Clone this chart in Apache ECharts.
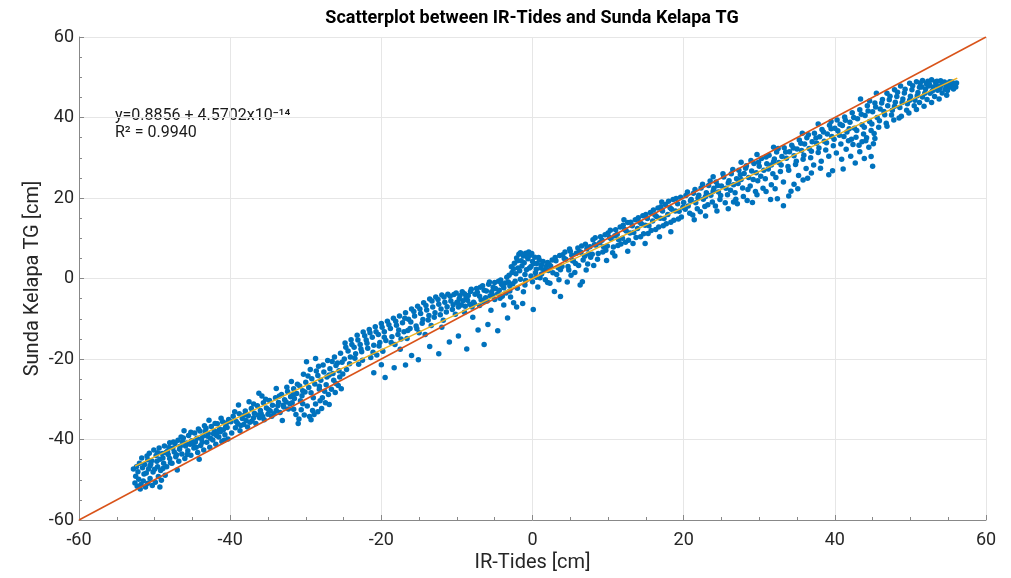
<!DOCTYPE html>
<html>
<head>
<meta charset="utf-8">
<script src="https://cdn.jsdelivr.net/npm/echarts@6/dist/echarts.min.js"></script>
<style>
html,body{margin:0;padding:0;background:#fff;}
#chart{width:1011px;height:578px;}
</style>
</head>
<body>
<div id="chart"></div>
<script>
// ---- data ----
const titleText = 'Scatterplot between IR-Tides and Sunda Kelapa TG';
const xAxisName = 'IR-Tides [cm]';
const yAxisName = 'Sunda Kelapa TG [cm]';
const fitText1 = 'y=0.8856 + 4.5702x10⁻¹⁴';
const fitText2 = 'R² = 0.9940';
const axisMin = -60, axisMax = 60, axisStep = 20;

// reference line y = x and fitted line
const refLine = [[-60, -60], [60, 60]];
const fitLine = [[-52.6, -46.6], [56.2, 49.8]];

// scatter points, grouped by region of the cloud
const segA = [
 [-52.6,-50.8],[-52.3,-51.6],[-52.1,-49.9],[-51.8,-51.2],[-51.5,-50.3],[-51.2,-51.8],[-50.9,-50.9],[-50.6,-49.7],[-50.3,-51.4],[-49.9,-50.6],[-49.5,-49.2],[-49.1,-50.1],
 [-52.4,-46.8],[-52.0,-45.9],[-51.7,-44.6],[-51.3,-46.2],[-51.0,-44.1],[-50.7,-43.4],[-50.4,-45.3],[-50.1,-42.6],[-49.8,-44.0],[-49.4,-42.1],[-49.0,-43.5],[-48.7,-41.6],[-48.3,-42.9],[-48.0,-40.8],[-47.6,-42.2],[-47.3,-41.0],[-46.9,-40.2],[-46.6,-41.7],[-46.2,-39.6],[-45.8,-40.9],[-45.5,-39.0],[-45.1,-40.3],[-44.7,-38.4],[-44.4,-39.7],[-44.0,-37.9],[-43.6,-39.1],[-43.2,-37.2],[-42.9,-38.5],[-42.5,-36.8],[-42.1,-37.9],[-41.7,-36.1],[-41.4,-37.4],[-41.0,-35.6],[-40.6,-36.9],[-40.2,-35.0],
 [-51.4,-48.6],[-50.8,-47.3],[-50.2,-48.1],[-49.6,-46.8],[-49.2,-47.7],[-48.8,-45.9],[-48.4,-46.8],[-48.0,-44.7],[-47.7,-45.9],[-47.2,-44.3],[-46.8,-45.4],[-46.4,-43.6],[-46.0,-44.7],[-45.6,-42.8],[-45.2,-43.9],[-44.8,-42.1],[-44.3,-43.2],[-43.9,-41.5],[-43.5,-42.6],[-43.1,-40.7],[-42.7,-41.9],[-42.3,-40.1],[-41.9,-41.2],[-41.5,-39.4],[-41.1,-40.5],[-40.7,-38.8],[-40.3,-39.9],
 [-50.5,-46.1],[-49.7,-45.4],[-48.9,-44.6],[-48.2,-43.7],[-47.4,-43.1],[-46.7,-42.4],[-45.9,-41.6],[-45.3,-41.2],[-44.6,-40.6],[-43.8,-39.8],[-43.0,-39.2],[-42.2,-38.6],[-41.6,-38.0],[-40.9,-37.6],[-40.4,-37.0],
 [-51.9,-52.3],[-49.3,-51.8],[-48.6,-48.9],[-47.0,-47.6],[-44.1,-44.9],[-46.1,-37.8],[-42.8,-35.2],[-38.9,-31.4]
];
const fillA = [
 [-52.8,-47.3],[-52.5,-49.1],[-51.6,-47.0],[-51.1,-48.3],[-50.6,-46.6],[-50.0,-47.4],[-49.3,-44.9],[-48.9,-47.2],[-48.5,-43.2],[-47.9,-45.8],[-47.5,-40.6],[-47.1,-43.8],[-46.5,-39.4],[-45.7,-43.7],[-45.2,-38.2],[-44.9,-41.0],[-44.2,-37.4],[-43.7,-40.7],[-43.4,-36.6],[-42.6,-39.7],[-42.0,-36.0],[-41.8,-39.0],[-41.2,-34.7],[-40.8,-40.2],[-40.5,-35.9],[-52.2,-48.0],[-50.9,-45.0],[-49.6,-43.3],[-48.1,-42.0],[-46.3,-40.6],[-44.5,-41.9],[-43.3,-38.0],[-41.3,-38.1]
];
const segB = [
 [-39.6,-34.2],[-39.2,-35.5],[-38.8,-33.6],[-38.4,-34.8],[-38.0,-32.9],[-37.6,-34.1],[-37.2,-32.3],[-36.8,-33.5],[-36.4,-31.6],[-36.0,-32.8],[-35.6,-30.9],[-35.2,-32.2],[-34.8,-30.3],[-34.4,-31.5],[-34.0,-29.6],[-33.6,-30.8],[-33.2,-28.8],[-32.8,-30.1],[-32.4,-28.1],[-32.0,-29.4],[-31.6,-27.4],[-31.2,-28.6],[-30.8,-26.7],[-30.4,-27.9],[-30.0,-25.8],[-29.6,-27.1],[-29.2,-24.9],[-28.8,-26.2],[-28.4,-24.1],[-28.0,-25.3],[-27.6,-23.2],[-27.2,-24.5],[-26.8,-22.4],[-26.4,-23.6],[-26.0,-21.6],[-25.6,-22.9],[-25.2,-20.8],
 [-37.5,-30.6],[-35.8,-29.2],[-33.9,-27.3],[-31.9,-25.6],[-30.3,-23.8],[-29.4,-22.6],[-28.3,-21.8],[-27.1,-20.4],[-26.2,-19.5],[-25.4,-18.6],[-29.9,-20.7],[-28.7,-19.9],
 [-39.8,-38.4],[-39.3,-37.1],[-38.7,-37.8],[-38.2,-36.3],[-37.7,-36.9],[-37.1,-35.4],[-36.6,-36.0],[-36.1,-34.6],[-35.5,-35.1],[-35.0,-33.7],[-34.5,-34.2],[-33.9,-32.8],[-33.4,-33.3],[-32.9,-31.9],[-32.3,-32.4],[-31.8,-30.9],
 [-31.3,-33.8],[-30.9,-34.9],[-30.6,-32.6],[-30.2,-33.9],[-29.8,-31.7],[-29.5,-34.3],[-29.1,-32.8],[-28.7,-31.2],[-28.4,-33.1],[-28.1,-30.4],[-27.8,-29.6],[-27.4,-30.9],[-27.0,-28.8],[-26.6,-27.5],[-26.1,-28.3],[-25.7,-26.6],[-25.3,-27.4],
 [-39.0,-36.0],[-37.9,-35.3],[-36.9,-34.6],[-35.9,-33.6],[-34.9,-32.6],[-33.7,-31.6],[-32.6,-30.7],[-31.5,-29.8],[-30.5,-29.1],[-29.3,-28.4],[-28.2,-27.5],[-27.3,-26.4],[-26.3,-25.3],[-25.5,-24.5],
 [-36.2,-28.5],[-33.1,-35.3],[-31.0,-36.0],[-26.9,-31.3]
];
const fillB = [
 [-39.9,-35.6],[-39.4,-33.1],[-38.6,-36.5],[-38.1,-33.9],[-37.4,-35.7],[-36.9,-31.2],[-36.3,-33.9],[-35.7,-34.3],[-35.3,-30.0],[-34.7,-32.9],[-34.2,-33.6],[-33.5,-29.2],[-33.0,-31.5],[-32.5,-27.0],[-32.1,-31.1],[-31.7,-28.9],[-31.1,-26.3],[-30.7,-30.4],[-30.1,-28.2],[-29.7,-24.2],[-29.0,-29.6],[-28.6,-23.0],[-28.2,-26.8],[-27.7,-21.5],[-27.5,-28.0],[-26.9,-24.0],[-26.5,-20.6],[-26.0,-26.1],[-25.8,-21.0],[-25.1,-23.7],[-29.3,-35.1],[-30.4,-31.1],[-28.9,-33.8],[-27.9,-32.3],[-31.6,-32.5]
];
const segC = [
 [-24.8,-16.0],[-24.0,-15.2],[-23.2,-14.1],[-22.4,-13.3],[-21.6,-12.7],[-20.8,-12.0],[-20.0,-11.2],[-19.2,-10.6],[-18.4,-9.9],[-17.6,-9.3],[-16.8,-8.5],[-16.0,-7.6],[-15.2,-6.9],[-14.4,-6.0],[-13.6,-5.1],[-12.8,-4.6],[-12.0,-4.1],[-11.2,-3.9],[-10.4,-4.0],[-9.6,-4.3],
 [-24.4,-18.0],[-23.6,-17.1],[-22.8,-16.4],[-22.0,-15.3],[-21.2,-14.6],[-20.4,-13.9],[-19.6,-13.2],[-18.8,-12.4],[-18.0,-11.6],[-17.2,-11.0],[-16.4,-10.1],[-15.6,-9.3],[-14.8,-8.7],[-14.0,-7.8],[-13.2,-7.1],[-12.4,-6.4],[-11.6,-5.9],[-10.8,-5.6],[-10.0,-5.9],[-9.2,-5.5],
 [-24.9,-20.0],[-24.1,-19.5],[-23.4,-18.7],[-22.6,-18.2],[-21.8,-17.3],[-21.0,-16.6],[-20.2,-15.9],[-19.4,-15.4],[-18.6,-14.5],[-17.8,-13.9],[-17.0,-13.2],[-16.2,-12.4],[-15.4,-11.8],[-14.6,-11.1],[-13.8,-10.3],[-13.0,-9.6],[-12.2,-9.0],[-11.4,-8.3],[-10.6,-7.7],[-9.8,-7.1],
 [-24.6,-22.6],[-23.0,-21.3],[-21.4,-19.6],[-19.8,-18.1],[-18.2,-16.4],[-16.6,-14.9],[-15.0,-13.5],[-13.4,-11.7],[-11.8,-10.4],[-10.2,-8.9],
 [-21.0,-23.4],[-19.5,-24.6],[-18.3,-22.2],[-16.8,-21.5],[-15.1,-20.2],[-13.6,-16.9],[-12.4,-18.7],[-11.0,-15.8],[-9.8,-14.3],[-8.7,-17.5],[-7.2,-12.8],[-6.4,-16.4],[-5.9,-11.4],[-4.6,-13.0],[-3.3,-9.8],[-2.1,-7.1]
];
const fillC = [
 [-24.7,-17.1],[-24.2,-21.2],[-23.9,-16.4],[-23.5,-19.8],[-23.1,-15.3],[-22.7,-17.5],[-22.2,-14.2],[-21.9,-16.1],[-21.5,-13.5],[-21.1,-18.3],[-20.7,-13.2],[-20.3,-16.8],[-19.9,-12.1],[-19.6,-14.6],[-19.0,-11.5],[-18.7,-15.9],[-18.1,-10.6],[-17.7,-12.8],[-17.4,-15.0],[-16.9,-9.9],[-16.5,-12.9],[-16.1,-10.8],[-15.7,-8.2],[-15.3,-12.5],[-14.9,-7.6],[-14.5,-10.2],[-14.1,-6.7],[-13.7,-9.2],[-13.3,-5.6],[-12.9,-8.5],[-12.5,-5.2],[-12.1,-7.6],[-11.7,-4.6],[-11.3,-7.0],[-10.9,-4.4],[-10.5,-6.5],[-10.1,-3.6],[-22.5,-20.3],[-20.6,-19.0],[-17.5,-17.6],[-14.2,-13.9],[-12.0,-12.1],[-16.0,-19.1],[-20.0,-21.4]
];
const segD = [
 [-9.0,-3.8],[-8.2,-3.2],[-7.4,-2.5],[-6.6,-1.8],[-5.8,-1.4],[-5.0,-1.0],[-4.2,-0.4],[-3.4,0.3],[-2.7,1.5],
 [-2.4,3.8],[-2.1,5.1],[-1.8,6.0],[-1.5,4.4],[-1.2,5.6],[-0.9,6.3],[-0.6,4.9],[-0.3,5.8],[0.0,4.2],[0.3,5.3],[0.6,3.7],[0.9,4.6],[-1.9,2.6],[-1.4,3.1],[-0.8,2.2],[-0.2,3.0],[0.5,2.3],[1.2,3.4],[-2.8,2.9],[-2.2,1.2],[-1.0,1.0],[1.5,2.1],[-0.5,6.6],[-1.6,6.4],
 [-9.4,-6.6],[-8.6,-5.4],[-7.8,-5.9],[-7.0,-4.4],[-6.2,-4.8],[-5.4,-3.3],[-4.6,-3.8],[-3.8,-2.3],[-3.0,-1.8],[-2.3,-0.7],[-1.6,-0.2],[-0.9,-0.5],[-0.2,0.6],[0.5,0.3],[1.2,1.1],
 [-9.0,-8.4],[-8.0,-7.1],[-7.0,-6.7],[-6.0,-5.6],[-5.0,-5.2],[-4.0,-4.4],[-3.0,-3.1],[-2.0,-2.4],[-1.0,-1.6],[0.0,-0.8],[1.0,0.2],
 [-8.8,-4.6],[-7.6,-3.9],[-6.4,-2.9],[-5.2,-2.2],[-4.1,-1.4],[-3.2,-0.9],[-9.9,-6.0],[-8.3,-6.4],[-6.8,-5.3],[-5.6,-4.3],[-4.4,-2.9],[-3.6,-1.1],
 [-1.3,-6.2],[0.1,-7.7],[-2.5,-6.0],[2.0,-1.0],[3.7,-4.5],[2.9,-3.2]
];
const fillD = [
 [-9.7,-5.0],[-9.3,-3.3],[-8.9,-6.9],[-8.5,-4.2],[-8.1,-2.7],[-7.7,-6.3],[-7.3,-3.4],[-6.9,-2.2],[-6.5,-5.7],[-6.1,-3.1],[-5.7,-0.9],[-5.3,-4.1],[-4.9,-2.5],[-4.5,-0.7],[-4.3,-4.9],[-3.9,-1.8],[-3.5,-3.6],[-3.1,0.8],[-2.6,-1.3],[-2.5,2.4],[-2.0,4.4],[-1.7,1.9],[-1.3,6.0],[-1.1,3.9],[-0.7,5.4],[-0.4,2.6],[-0.1,6.2],[0.2,3.7],[0.4,1.4],[0.8,5.2],[1.1,2.6],[1.4,4.2],[1.8,3.0],[-5.5,-7.9],[-3.8,-6.6],[-7.9,-9.6],[-2.9,-4.6],[-1.2,-3.3],[0.7,-2.1],[1.7,-0.3]
];
const segE = [
 [2.0,4.0],[3.0,5.2],[4.0,5.9],[5.0,6.8],[6.0,7.6],[7.0,8.5],[8.0,9.6],[9.0,10.4],[10.0,11.3],[11.0,12.1],[12.0,13.2],[13.0,14.0],[14.0,15.1],[15.0,15.9],[16.0,17.0],[17.0,17.8],[18.0,19.2],[19.0,19.9],
 [2.4,3.1],[3.4,2.7],[4.4,4.8],[5.4,4.4],[6.4,6.5],[7.4,6.1],[8.4,8.3],[9.4,7.9],[10.4,9.9],[11.4,9.6],[12.4,11.8],[13.4,11.4],[14.4,13.6],[15.4,13.1],[16.4,15.4],[17.4,14.9],[18.4,17.2],[19.4,16.7],
 [2.7,1.4],[3.7,2.2],[4.7,3.0],[5.7,3.7],[6.7,4.6],[7.7,5.3],[8.7,6.2],[9.7,7.0],[10.7,7.8],[11.7,8.6],[12.7,9.5],[13.7,10.2],[14.7,11.1],[15.7,11.9],[16.7,12.8],[17.7,13.6],[18.7,14.5],[19.7,15.3],
 [2.2,3.5],[3.1,4.4],[4.2,5.0],[5.2,5.8],[6.2,6.7],[7.2,7.4],[8.2,8.4],[9.2,9.5],[10.2,10.2],[11.2,11.0],[12.2,12.2],[13.2,13.1],[14.2,14.0],[15.2,14.9],[16.2,15.8],[17.2,16.8],[18.2,17.6],[19.2,18.6],
 [2.3,-1.2],[3.5,-0.3],[5.1,0.8],[6.3,-1.6],[8.1,3.2],[10.9,5.6],[12.6,6.8],[14.9,8.7],[16.8,10.4],[18.3,11.6],[4.6,-0.9],[7.1,2.1],[9.8,4.5],[5.6,1.5],[6.6,-0.8]
];
const fillE = [
 [2.1,2.0],[2.6,4.6],[3.2,1.0],[3.6,5.7],[3.9,3.0],[4.3,6.6],[4.8,2.1],[5.3,4.4],[5.8,6.3],[6.1,3.2],[6.5,8.1],[6.9,5.5],[7.3,3.6],[7.6,7.9],[7.9,6.0],[8.3,10.1],[8.6,4.8],[8.9,8.9],[9.3,6.6],[9.6,10.9],[9.9,8.1],[10.3,12.0],[10.6,6.4],[10.9,10.6],[11.3,8.2],[11.6,12.8],[11.9,10.0],[12.3,9.0],[12.6,13.9],[12.9,11.3],[13.3,8.7],[13.6,14.6],[13.9,12.4],[14.3,10.4],[14.6,15.6],[14.9,13.2],[15.3,11.2],[15.6,16.4],[15.9,14.3],[16.3,12.2],[16.6,17.5],[16.9,15.0],[17.3,13.1],[17.6,18.4],[17.9,15.9],[18.3,14.0],[18.6,19.6],[18.9,16.8],[19.3,14.8],[19.6,20.2],[19.9,17.7],[4.9,7.3],[12.1,14.6],[17.1,19.0]
];
const segF = [
 [20.3,20.6],[21.3,21.2],[22.3,22.5],[23.3,23.1],[24.3,24.0],[25.3,25.2],[26.3,26.0],[27.3,26.9],[28.3,28.0],[29.3,28.6],[30.3,29.8],[31.3,30.6],[32.3,31.4],[33.3,32.5],[34.3,33.1],[35.3,34.4],[36.3,35.0],[37.3,36.1],[38.3,37.0],[39.3,38.1],
 [20.0,18.9],[21.0,19.6],[22.0,20.7],[23.0,21.3],[24.0,22.4],[25.0,23.0],[26.0,24.3],[27.0,24.8],[28.0,26.1],[29.0,26.7],[30.0,27.9],[31.0,28.5],[32.0,29.7],[33.0,30.3],[34.0,31.5],[35.0,32.2],[36.0,33.4],[37.0,34.0],[38.0,35.2],[39.0,35.9],
 [20.6,18.0],[21.6,18.8],[22.6,19.7],[23.6,20.7],[24.6,21.5],[25.6,22.4],[26.6,23.3],[27.6,24.6],[28.6,25.1],[29.6,26.3],[30.6,26.9],[31.6,28.2],[32.6,28.8],[33.6,29.9],[34.6,30.5],[35.6,31.8],[36.6,32.3],[37.6,33.6],[38.6,34.1],[39.6,35.3],
 [20.8,16.2],[21.8,17.3],[22.8,17.9],[23.8,19.0],[24.8,19.6],[25.8,20.8],[26.8,21.3],[27.8,22.5],[28.8,23.0],[29.8,24.3],[30.8,24.8],[31.8,26.0],[32.8,26.6],[33.8,27.8],[34.8,28.3],[35.8,29.6],[36.8,30.0],[37.8,31.3],[38.8,31.9],[39.8,33.0],
 [21.4,14.6],[22.9,15.5],[24.4,16.8],[25.9,17.3],[27.1,18.6],[28.4,19.4],[29.7,20.8],[30.9,21.6],[32.1,22.3],[33.2,18.1],[33.9,20.5],[34.6,23.4],[35.8,24.5],[36.9,26.2],[38.1,27.4],[39.2,25.8],[26.6,19.0],[31.5,19.6],
 [23.9,25.3],[27.6,28.9],[31.9,32.6],[35.7,36.1],[37.8,38.4],[39.5,39.0],[29.7,30.8]
];
const fillF = [
 [20.2,17.2],[20.5,21.5],[20.9,19.3],[21.2,15.8],[21.5,22.1],[21.9,20.0],[22.2,16.6],[22.5,23.4],[22.9,20.4],[23.2,18.3],[23.5,24.2],[23.9,21.7],[24.2,18.0],[24.5,23.1],[24.9,20.6],[25.2,26.0],[25.5,18.8],[25.9,23.7],[26.2,21.9],[26.5,27.1],[26.9,19.7],[27.2,23.6],[27.5,25.8],[27.9,20.4],[28.2,27.4],[28.5,22.1],[28.9,29.3],[29.2,24.6],[29.5,21.6],[29.9,28.9],[30.2,25.4],[30.5,22.4],[30.9,30.2],[31.2,27.2],[31.6,23.3],[31.9,29.0],[32.2,25.1],[32.5,32.3],[32.9,28.2],[33.2,24.0],[33.5,31.4],[33.9,26.9],[34.2,21.7],[34.5,32.4],[34.9,29.1],[35.2,25.6],[35.5,33.6],[35.9,30.6],[36.2,27.3],[36.5,35.7],[36.9,31.6],[37.2,28.2],[37.5,34.9],[37.9,32.4],[38.2,29.1],[38.5,36.4],[38.9,33.7],[39.2,30.4],[39.5,37.2],[39.9,34.6],[32.4,19.8],[35.1,22.3],[36.4,24.9],[29.1,18.9]
];
const segG = [
 [40.3,39.4],[41.3,40.1],[42.3,41.2],[43.3,41.9],[44.3,42.9],[45.3,43.6],[46.3,44.5],[47.3,45.3],[48.3,46.3],[49.3,47.0],[50.3,47.9],[51.3,48.6],[52.3,49.0],[53.3,48.8],[54.3,48.4],[55.3,48.1],[56.0,47.6],
 [40.0,37.3],[41.0,38.0],[42.0,38.8],[43.0,39.7],[44.0,40.5],[45.0,41.4],[46.0,42.1],[47.0,42.9],[48.0,43.8],[49.0,44.6],[50.0,45.3],[51.0,46.2],[52.0,47.1],[53.0,47.6],[54.0,47.9],[55.0,47.3],[55.8,48.3],
 [40.6,35.6],[41.6,36.4],[42.6,37.3],[43.6,38.2],[44.6,39.0],[45.6,40.0],[46.6,40.7],[47.6,41.8],[48.6,42.5],[49.6,43.4],[50.6,44.3],[51.6,45.1],[52.6,46.0],[53.6,46.8],[54.6,47.0],[55.6,47.8],
 [40.8,33.4],[41.8,34.2],[42.8,35.1],[43.8,35.9],[44.8,36.8],[45.8,37.6],[46.8,38.6],[47.8,39.4],[48.8,40.3],[49.8,41.1],[50.8,42.0],[51.8,42.8],[52.8,43.7],[53.8,44.6],[54.8,45.5],
 [40.2,31.2],[40.9,29.6],[41.5,32.1],[42.1,30.4],[42.7,28.7],[43.3,31.5],[43.9,29.8],[44.5,32.6],[44.8,30.3],[45.0,27.9],[42.4,33.3],[43.6,34.0],[41.1,27.2],[39.7,26.8],[44.2,35.0],[45.1,33.5],
 [50.8,48.9],[51.6,49.2],[52.1,48.4],[52.8,49.4],[53.4,48.2],[54.0,49.1],[54.7,48.0],[55.2,47.6],[55.9,47.9],[53.7,47.4],[52.4,47.8],[51.2,47.5],[55.5,48.8],[49.9,48.5],[48.7,47.8],[47.9,46.9],[46.9,46.0],
 [43.4,44.6],[45.5,46.0],[44.6,44.1]
];
const fillG = [
 [40.4,36.7],[40.7,38.3],[41.2,35.3],[41.4,39.3],[41.9,37.2],[42.2,34.6],[42.5,40.0],[42.9,36.8],[43.2,33.1],[43.5,40.8],[43.9,37.6],[44.1,34.2],[44.4,41.6],[44.9,38.4],[45.2,36.0],[45.4,42.6],[45.9,39.2],[46.2,43.6],[46.5,41.5],[46.9,37.8],[47.2,44.4],[47.5,40.6],[47.9,42.8],[48.2,45.2],[48.5,39.9],[48.9,43.7],[49.2,46.1],[49.5,41.8],[49.9,44.3],[50.2,46.9],[50.5,42.9],[50.9,45.4],[51.2,43.7],[51.5,47.6],[51.9,46.0],[52.2,44.5],[52.5,48.3],[52.9,46.6],[53.2,45.2],[53.5,49.0],[53.9,47.2],[54.2,46.1],[54.5,48.8],[54.9,46.7],[55.2,48.9],[55.7,47.1],[56.1,48.6],[45.3,34.8]
];

const points = [].concat(segA, fillA, segB, fillB, segC, fillC, segD, fillD, segE, fillE, segF, fillF, segG, fillG);

// ---- chart ----
const chart = echarts.init(document.getElementById('chart'), null, {renderer: 'canvas'});
const FONT = 'Roboto';
const axisCommon = {
  type: 'value', min: axisMin, max: axisMax, interval: axisStep,
  nameLocation: 'middle',
  nameMoveOverlap: false,
  nameTextStyle: {fontFamily: FONT, fontSize: 20, color: '#262626'},
  axisLine: {show: true, onZero: false, lineStyle: {color: '#888888', width: 1}},
  axisTick: {show: true, inside: true, length: 5, lineStyle: {color: '#888888'}},
  minorTick: {show: true, splitNumber: 4, length: 3, lineStyle: {color: '#888888'}},
  axisLabel: {fontFamily: FONT, fontSize: 18, color: '#262626'},
  splitLine: {show: true, lineStyle: {color: '#e6e6e6', width: 1}}
};
chart.setOption({
  animation: false,
  backgroundColor: '#ffffff',
  grid: {left: 79, right: 25, top: 37, bottom: 57, containLabel: false},
  xAxis: Object.assign({}, axisCommon, {
    name: xAxisName, nameGap: 33,
    axisLabel: Object.assign({}, axisCommon.axisLabel, {margin: 11})
  }),
  yAxis: Object.assign({}, axisCommon, {
    name: yAxisName, nameGap: 36,
    axisLabel: Object.assign({}, axisCommon.axisLabel, {margin: 5})
  }),
  graphic: [
    {type: 'text', x: 532, y: 9, style: {text: titleText, textAlign: 'center', fontFamily: FONT, fontSize: 18, fontWeight: 'bold', fill: '#000000'}},
    {type: 'text', left: 115, top: 108, style: {text: fitText1, fontFamily: FONT, fontSize: 16, fill: '#1a1a1a'}},
    {type: 'text', left: 115, top: 125, style: {text: fitText2, fontFamily: FONT, fontSize: 16, fill: '#1a1a1a'}}
  ],
  series: [
    {
      type: 'scatter', data: points, symbol: 'circle', symbolSize: 5.5,
      itemStyle: {color: '#0072BD', opacity: 1}, z: 2
    },
    {
      type: 'line', data: refLine, symbol: 'none',
      lineStyle: {color: '#D95319', width: 1.5}, z: 3
    },
    {
      type: 'line', data: fitLine, symbol: 'none',
      lineStyle: {color: '#EDB120', width: 1.5}, z: 4
    }
  ]
});
</script>
</body>
</html>
